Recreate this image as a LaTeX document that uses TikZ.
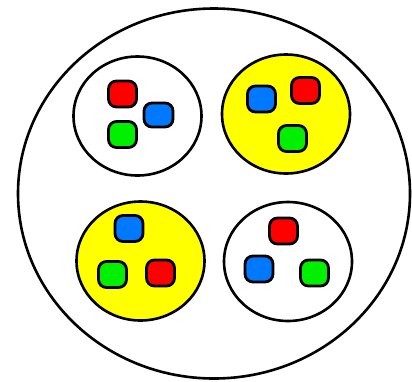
\documentclass[tikz,border=0pt]{standalone}
\usetikzlibrary{shapes.geometric}
\definecolor{dred}{RGB}{255,0,0}
\definecolor{dgreen}{RGB}{0,240,0}
\definecolor{dblue}{RGB}{0,120,255}
\definecolor{dyellow}{RGB}{255,255,0}
\tikzset{
  outer/.style={ellipse, draw=black, line width=2.6pt, inner sep=0pt, fill=white},
  group/.style={ellipse, draw=black, line width=2.6pt, inner sep=0pt, minimum width=128pt, minimum height=119pt},
  dot/.style={rectangle, rounded corners=8pt, draw=black, line width=2.8pt, inner sep=0pt, minimum width=28pt, minimum height=26pt},
  r/.style={dot, fill=dred},
  g/.style={dot, fill=dgreen},
  b/.style={dot, fill=dblue},
}
\begin{document}
\begin{tikzpicture}[x=1pt,y=-1pt]
\useasboundingbox (0,0) rectangle (412,381);
\fill[white] (0,0) rectangle (412,381);
\begin{scope}
\clip (0,0) rectangle (412,381);
\node[outer, minimum width=392pt, minimum height=370pt] (big) at (214,193.5) {};
\end{scope}
\node[group, fill=white] (tl) at (137.5,116) {};
\node[group, fill=dyellow] (tr) at (286,114) {};
\node[group, fill=dyellow] (bl) at (140.5,261) {};
\node[group, fill=white] (br) at (288,261.5) {};
% top-left
\node[r] (tlr) at (122.5,94) {};
\node[b, minimum width=29pt, minimum height=24pt] (tlb) at (158.5,115) {};
\node[g] (tlg) at (122.5,134.5) {};
% top-right
\node[b] (trb) at (261.5,99) {};
\node[r] (trr) at (305.5,90.5) {};
\node[g] (trg) at (292.5,138.5) {};
% bottom-left
\node[b] (blb) at (129,228.5) {};
\node[g] (blg) at (112.5,274.5) {};
\node[r] (blr) at (160.5,273) {};
% bottom-right
\node[r] (brr) at (283.5,231) {};
\node[b] (brb) at (259,269) {};
\node[g] (brg) at (314.5,273) {};
\end{tikzpicture}
\end{document}
